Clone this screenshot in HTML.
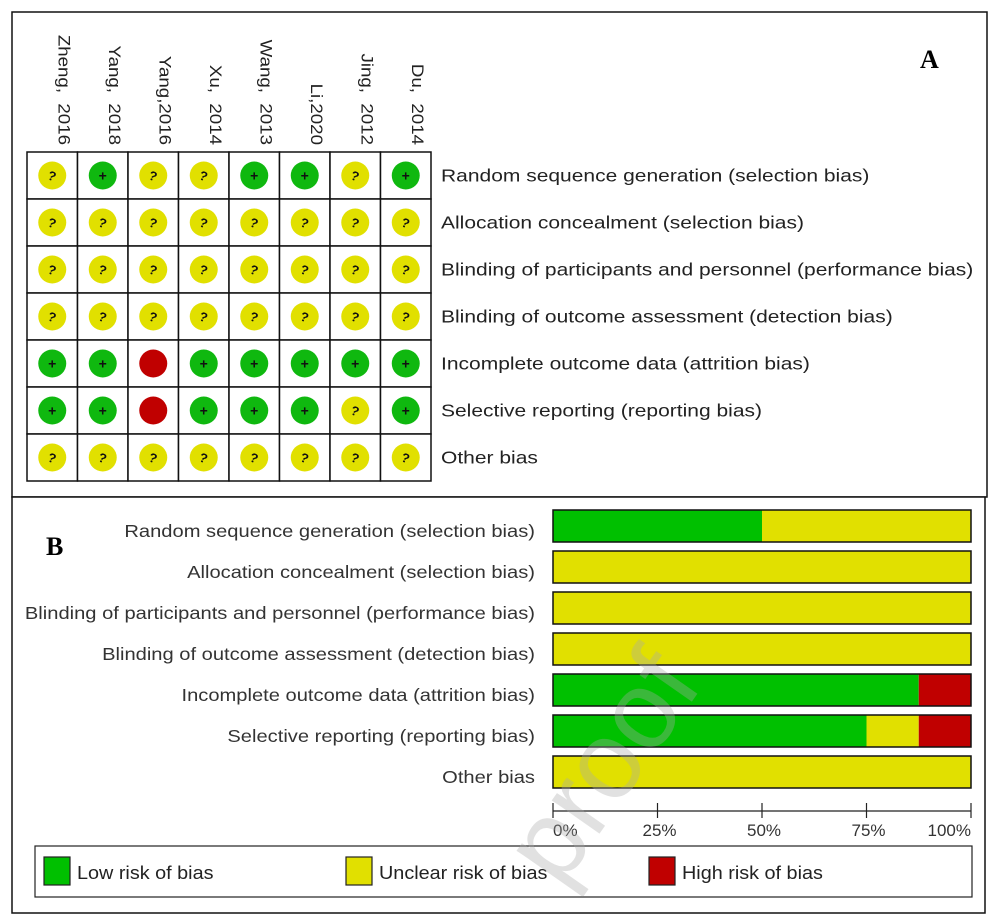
<!DOCTYPE html>
<html><head><meta charset="utf-8">
<style>
html,body{margin:0;padding:0;background:#fff;}
svg{display:block;font-family:"Liberation Sans",Arial,sans-serif;}
</style></head>
<body>
<svg id="fig" width="998" height="920" viewBox="0 0 998 920" xmlns="http://www.w3.org/2000/svg">
  <rect x="12" y="12" width="975" height="485" fill="#fff" stroke="#111" stroke-width="1.5"/>
  <rect x="12" y="497" width="973" height="416" fill="#fff" stroke="#111" stroke-width="1.5"/>
  <text x="920" y="68" font-family="Liberation Serif,serif" font-weight="bold" font-size="26" fill="#000">A</text>
  <text x="46" y="555" font-family="Liberation Serif,serif" font-weight="bold" font-size="26" fill="#000">B</text>
  <g id="gA"></g>
  <g id="gB"></g>
</svg>
<script>
const studies = ["Zheng,  2016","Yang,  2018","Yang,2016","Xu,  2014","Wang,  2013","Li,2020","Jing,  2012","Du,  2014"];
const domains = ["Random sequence generation (selection bias)","Allocation concealment (selection bias)","Blinding of participants and personnel (performance bias)","Blinding of outcome assessment (detection bias)","Incomplete outcome data (attrition bias)","Selective reporting (reporting bias)","Other bias"];
const judgRow1 = ["?","+","?","?","+","+","?","+"];
const judgRow2 = ["?","?","?","?","?","?","?","?"];
const judgRow3 = ["?","?","?","?","?","?","?","?"];
const judgRow4 = ["?","?","?","?","?","?","?","?"];
const judgRow5 = ["+","+","-","+","+","+","+","+"];
const judgRow6 = ["+","+","-","+","+","+","?","+"];
const judgRow7 = ["?","?","?","?","?","?","?","?"];
const lowPct = [50,0,0,0,87.5,75,0];
const unclearPct = [50,100,100,100,0,12.5,100];
const highPct = [0,0,0,0,12.5,12.5,0];
const tickLabels = ["0%","25%","50%","75%","100%"];
const tickValues = [0,25,50,75,100];

const NS="http://www.w3.org/2000/svg";
function mk(tag,attrs,parent,txt){const e=document.createElementNS(NS,tag);for(const k in attrs)e.setAttribute(k,attrs[k]);if(txt!==undefined)e.textContent=txt;parent.appendChild(e);return e;}
function widen(t,f){const w=t.getComputedTextLength();if(w>0){t.setAttribute('textLength',(w*f).toFixed(1));t.setAttribute('lengthAdjust','spacingAndGlyphs');}}
const COL={"+":"#0fb80f","?":"#e1e000","-":"#c00000"};
const GREEN="#00c000",YEL="#e1e000",RED="#c00000";

// Panel A
const gA=document.getElementById('gA');
const judg=[judgRow1,judgRow2,judgRow3,judgRow4,judgRow5,judgRow6,judgRow7];
const gx0=27,gy0=152,cw=50.5,rh=47;
const colX=i=>gx0+i*cw, rowY=j=>gy0+j*rh;
studies.forEach((s,i)=>{
  const cx=colX(i)+cw/2+6;
  const t=mk('text',{x:0,y:0,transform:`translate(${cx},145) rotate(90)`,'text-anchor':'end','font-size':17,fill:'#222','xml:space':'preserve'},gA,s);
  
  
  t.style.whiteSpace='pre';
  widen(t,1.1);
});
judg.forEach((row,j)=>{
  row.forEach((v,i)=>{
    const r=mk('rect',{x:colX(i),y:rowY(j),width:cw,height:rh,fill:'#fff',stroke:'#111','stroke-width':1.5},gA);
    
    
    const cx=colX(i)+cw/2, cy=rowY(j)+rh/2;
    const c=mk('circle',{cx:cx,cy:cy,r:14,fill:COL[v]},gA);
    
    
    const t=mk('text',{x:cx,y:cy+5,'text-anchor':'middle','font-size':v==='+'?14:13,'font-weight':'bold',fill:'#111',transform:v==='?'?`rotate(20 ${cx} ${cy})`:''},gA,v==='-'?'':v);
    
    
  });
  const lt=mk('text',{x:441,y:rowY(j)+rh/2+6,'font-size':17.5,fill:'#222'},gA,domains[j]);
  
  
  widen(lt,1.2);
});

// Panel B
const gB=document.getElementById('gB');
const bx0=553,bx1=971;
const xs=v=>bx0+(bx1-bx0)*v/100;
const barTop=j=>510+j*41, bh=32;
domains.forEach((d,j)=>{
  const y=barTop(j);
  const lt=mk('text',{x:535,y:y+bh/2+11,'text-anchor':'end','font-size':17.5,fill:'#333'},gB,d);
  
  
  widen(lt,1.15);
  let acc=0;
  [[lowPct[j],GREEN],[unclearPct[j],YEL],[highPct[j],RED]].forEach(([v,c])=>{
    if(v>0){
      const r=mk('rect',{x:xs(acc),y:y,width:xs(acc+v)-xs(acc),height:bh,fill:c},gB);
      
      
    }
    acc+=v;
  });
  const o=mk('rect',{x:bx0,y:y,width:bx1-bx0,height:bh,fill:'none',stroke:'#111','stroke-width':1.5},gB);
  
  
});
const ay=811;
const ax=mk('line',{x1:bx0,x2:bx1,y1:ay,y2:ay,stroke:'#222','stroke-width':1.2},gB);


tickValues.forEach((v,i)=>{
  const tk=mk('line',{x1:xs(v),x2:xs(v),y1:803,y2:818,stroke:'#222','stroke-width':1.2},gB);
  
  
  const anchor=i===0?'start':(i===tickValues.length-1?'end':'middle');
  const tl=mk('text',{x:xs(v)+(i===0||i===tickValues.length-1?0:2),y:836,'text-anchor':anchor,'font-size':17,fill:'#333'},gB,tickLabels[i]);
  
  
});
// Legend
const lg=mk('rect',{x:35,y:846,width:937,height:51,fill:'#fff',stroke:'#222','stroke-width':1.2},gB);


const legendItems=[["Low risk of bias",GREEN,44],["Unclear risk of bias",YEL,346],["High risk of bias",RED,649]];
legendItems.forEach(([t,c,x])=>{
  const s=mk('rect',{x:x,y:857,width:26,height:28,fill:c,stroke:'#222','stroke-width':1.2},gB);
  
  
  const tx=mk('text',{x:x+33,y:879,'font-size':18,fill:'#222'},gB,t);
  
  
  widen(tx,1.1);
});
// watermark
const wm=mk('text',{x:0,y:0,transform:'translate(560,890) rotate(-55)','font-size':110,fill:'#aaa','fill-opacity':0.35},document.getElementById('fig'),'proof');


</script>
</body></html>
